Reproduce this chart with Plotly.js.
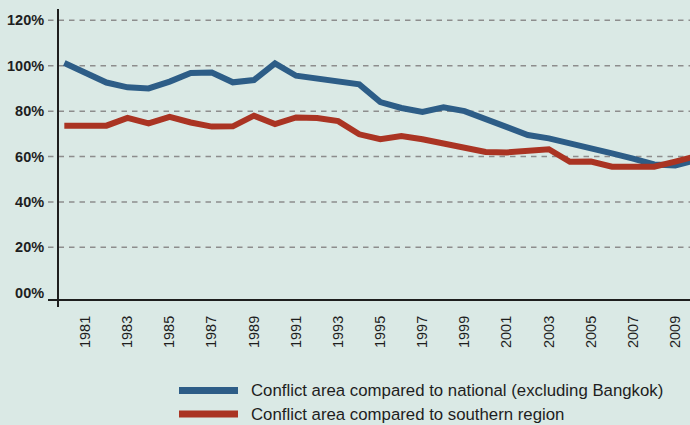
<!DOCTYPE html>
<html>
<head>
<meta charset="utf-8">
<script src="https://cdn.plot.ly/plotly-3.0.1.min.js"></script>
<style>
  html, body { margin: 0; padding: 0; background: #dae9e5; }
  #chart { width: 690px; height: 425px; }
</style>
</head>
<body>
<div id="chart"></div>
<script>
// ---- data ----
const years = [1980,1981,1982,1983,1984,1985,1986,1987,1988,1989,1990,1991,1992,1993,1994,1995,1996,1997,1998,1999,2000,2001,2002,2003,2004,2005,2006,2007,2008,2009,2010];
const nationalExBangkok = [101.2,96.9,92.6,90.5,90.0,93.0,96.8,97.0,92.7,93.7,101.0,95.6,94.3,93.0,91.8,84.0,81.4,79.7,81.7,80.0,76.6,73.0,69.5,68.0,65.6,63.6,61.4,59.1,56.5,56.1,58.5];
const southernRegion = [73.6,73.6,73.6,77.0,74.6,77.5,75.0,73.2,73.3,78.0,74.3,77.2,77.0,75.6,69.8,67.6,69.0,67.6,65.7,63.9,62.0,61.8,62.4,63.2,57.7,57.8,55.5,55.4,55.5,57.8,60.2];
const seriesNames = ["Conflict area compared to national (excluding Bangkok)", "Conflict area compared to southern region"];
const xTickYears = [1981,1983,1985,1987,1989,1991,1993,1995,1997,1999,2001,2003,2005,2007,2009];
const yTickVals = [0,20,40,60,80,100,120];
const yTickText = ["00%","20%","40%","60%","80%","100%","120%"];

const colors = ["#2d5d87", "#aa3423"];
const plotW = 632, plotH = 291;
const px2xp = px => (px - 58) / plotW;
const px2yp = py => (300 - py) / plotH;

const traces = [
  { x: years, y: nationalExBangkok, name: seriesNames[0], type: "scatter", mode: "lines",
    line: { color: colors[0], width: 6 }, showlegend: false, hoverinfo: "skip" },
  { x: years, y: southernRegion, name: seriesNames[1], type: "scatter", mode: "lines",
    line: { color: colors[1], width: 6 }, showlegend: false, hoverinfo: "skip" }
];

const shapes = [];
// dashed gridlines (extend a little left of axis)
yTickVals.filter(v => v > 0).forEach(v => {
  shapes.push({ type: "line", xref: "paper", yref: "y", x0: px2xp(48), x1: 1, y0: v, y1: v,
    line: { color: "#8d8d8d", width: 1.5, dash: "5.5px,5px" }, layer: "below" });
});
// axes lines with overhangs
shapes.push({ type: "line", xref: "paper", yref: "paper", x0: px2xp(48), x1: 1, y0: 0, y1: 0,
  line: { color: "#1e1e1e", width: 2 } });
shapes.push({ type: "line", xref: "paper", yref: "paper", x0: 0, x1: 0, y0: px2yp(307), y1: 1,
  line: { color: "#1e1e1e", width: 2 } });
// legend swatches
const legendRows = [390.5, 414];
legendRows.forEach((py, i) => {
  shapes.push({ type: "line", xref: "paper", yref: "paper", x0: px2xp(179), x1: px2xp(238),
    y0: px2yp(py), y1: px2yp(py), line: { color: colors[i], width: 7 } });
});
const annotations = legendRows.map((py, i) => ({
  xref: "paper", yref: "paper", x: px2xp(249), y: px2yp(py), xanchor: "left", yanchor: "middle",
  text: seriesNames[i], showarrow: false,
  font: { family: "Liberation Sans, Arial, sans-serif", size: 16.8, color: "#1e1e1e" }
}));

const layout = {
  width: 690, height: 425,
  margin: { l: 58, r: 0, t: 9, b: 125 },
  paper_bgcolor: "#dae9e5", plot_bgcolor: "#dae9e5",
  showlegend: false,
  xaxis: {
    range: [1979.70, 2009.70], tickvals: xTickYears, ticktext: xTickYears.map(String),
    tickangle: -90, showgrid: false, zeroline: false, showline: false,
    ticks: "outside", ticklen: 9, tickcolor: "rgba(0,0,0,0)",
    tickfont: { family: "Liberation Sans, Arial, sans-serif", size: 14.5, color: "#1e1e1e" }
  },
  yaxis: {
    range: [-3.2, 125.0], tickvals: yTickVals, ticktext: yTickText,
    showgrid: false, zeroline: false, showline: false,
    ticks: "outside", ticklen: 10, tickcolor: "rgba(0,0,0,0)",
    tickfont: { family: "Liberation Sans, Arial, sans-serif", size: 14.5, color: "#1e1e1e", weight: "bold" }
  },
  shapes: shapes,
  annotations: annotations
};

Plotly.newPlot("chart", traces, layout, { staticPlot: true, displayModeBar: false });
</script>
</body>
</html>
